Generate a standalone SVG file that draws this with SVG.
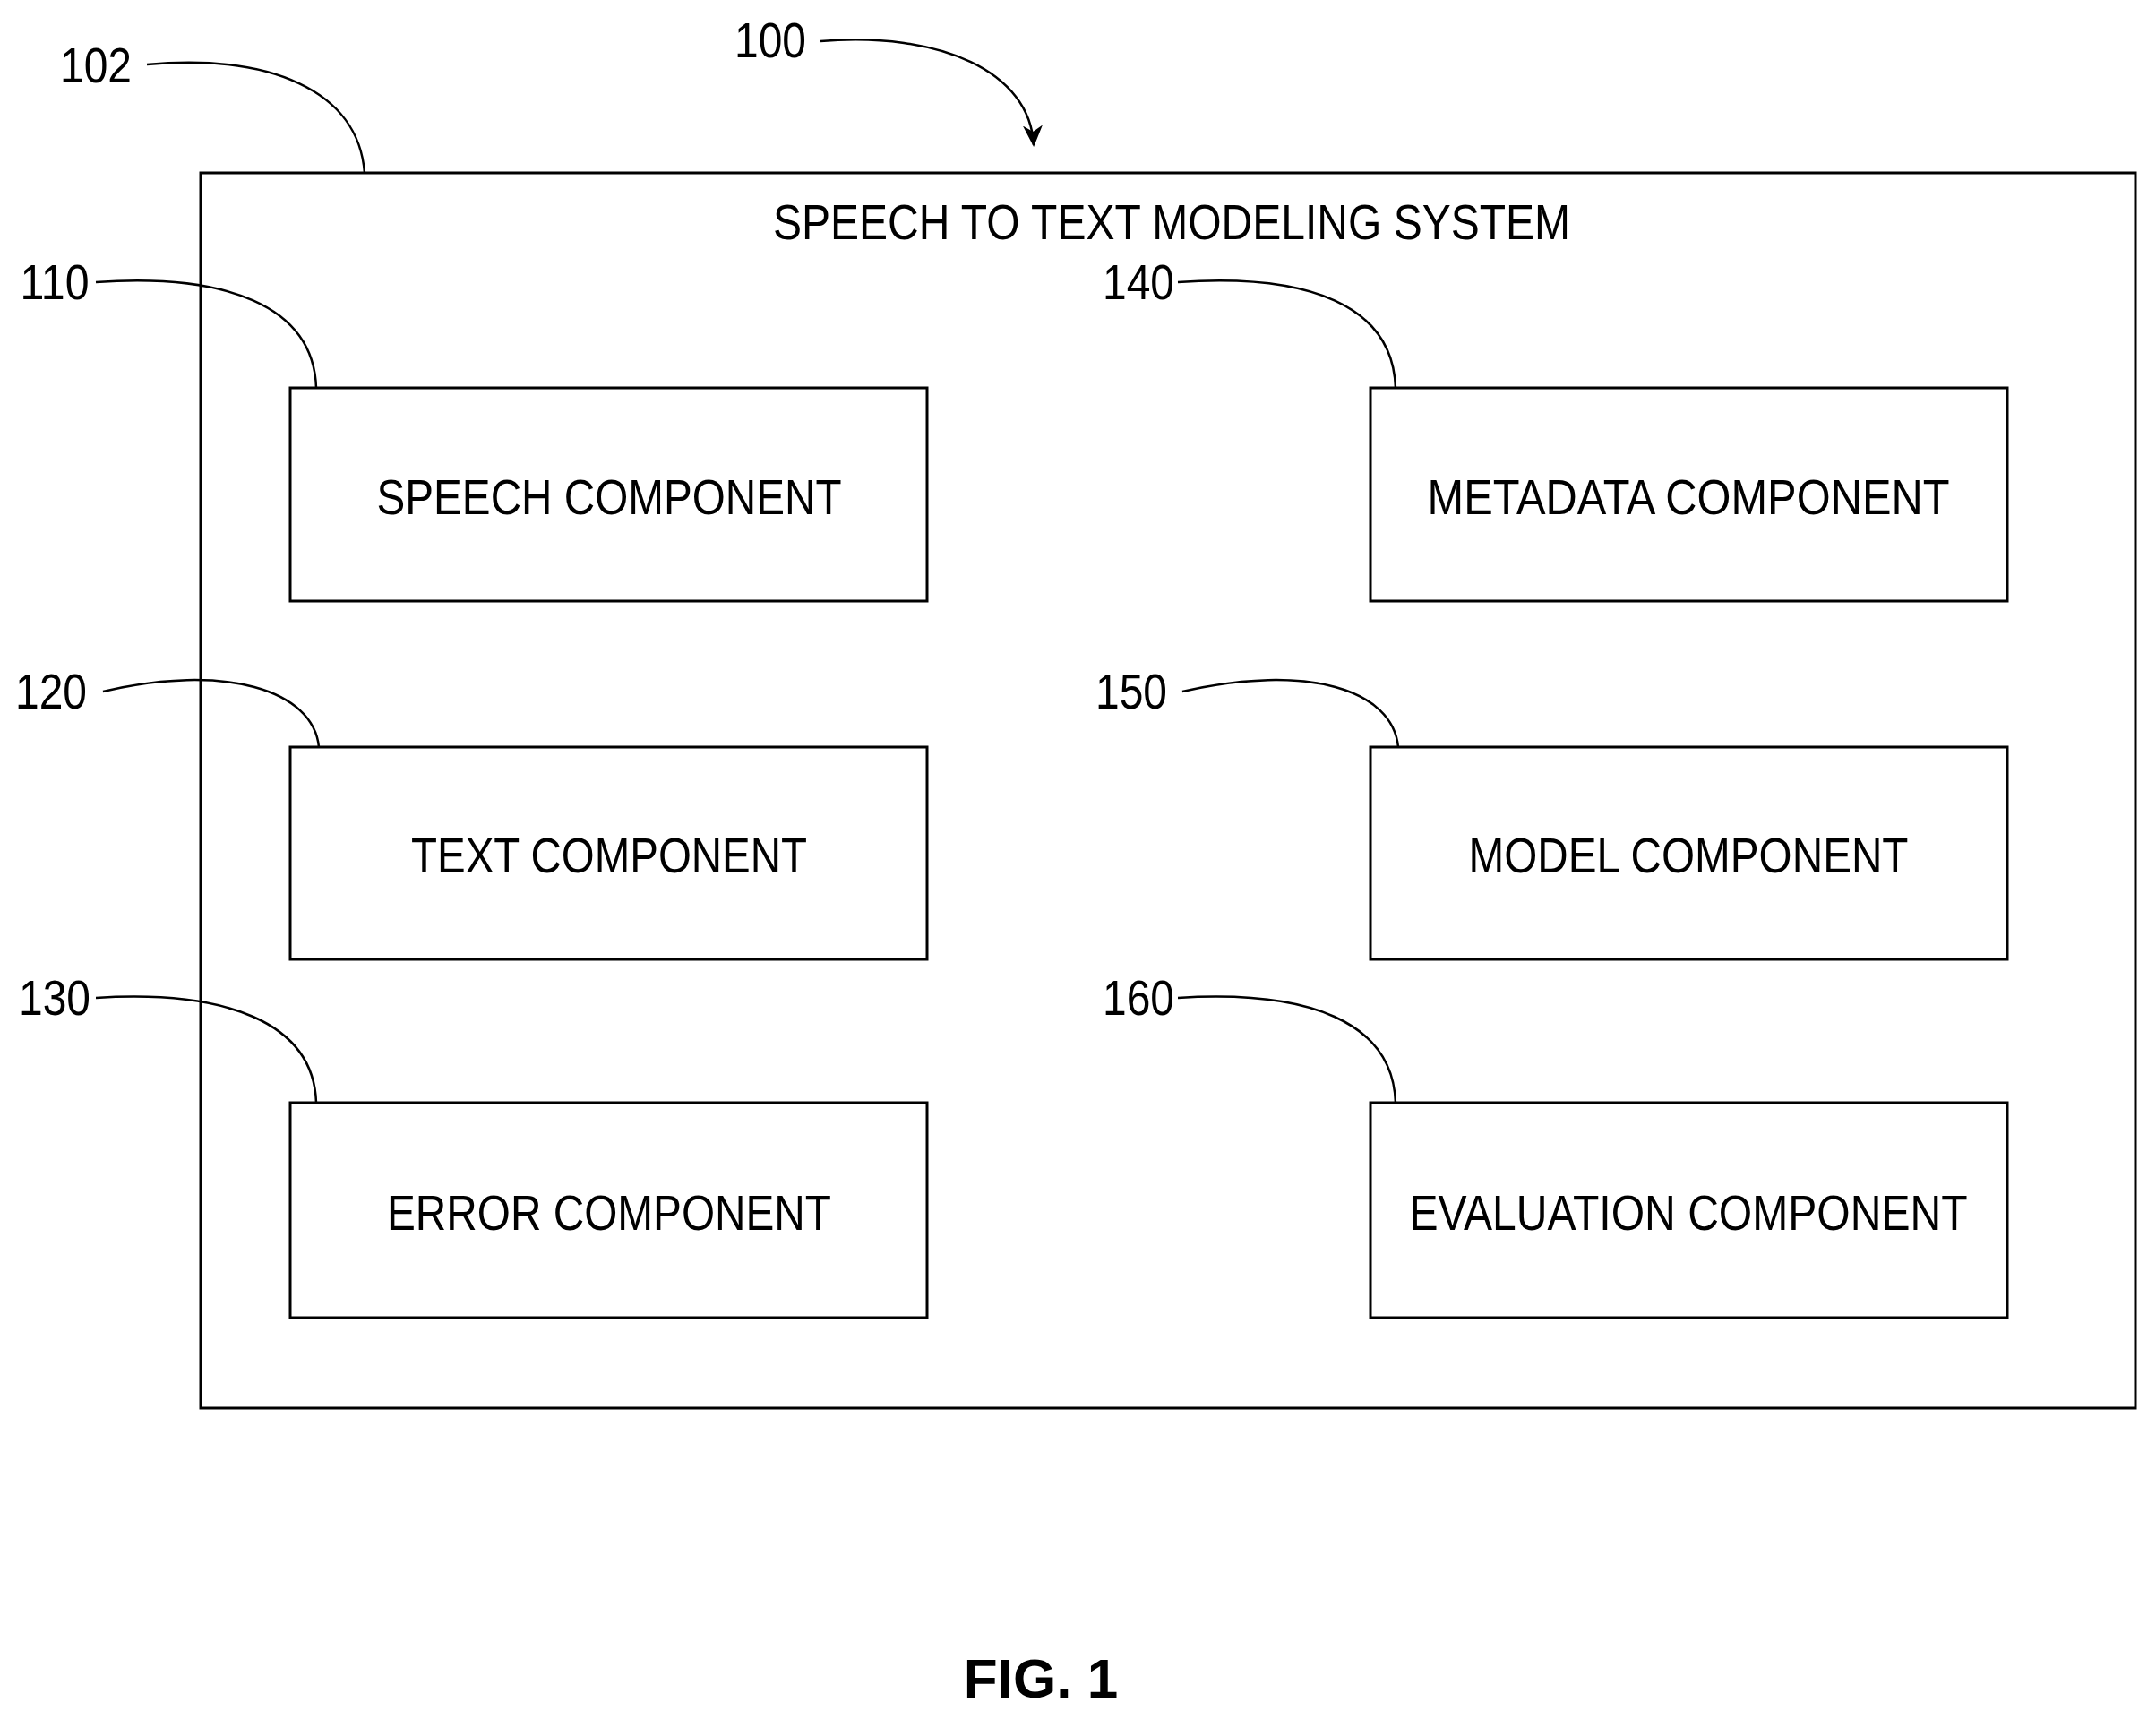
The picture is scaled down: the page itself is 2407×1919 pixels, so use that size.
<svg xmlns="http://www.w3.org/2000/svg" width="2407" height="1919" viewBox="0 0 2407 1919">
<style>
.b{fill:none;stroke:#000;stroke-width:3}
.l{fill:none;stroke:#000;stroke-width:2.5}
text{font-family:"Liberation Sans",Arial,sans-serif;font-size:56px;fill:#000;text-anchor:middle}
.f{font-weight:bold;font-size:62px}
</style>
<defs><marker id="a" markerWidth="26" markerHeight="26" refX="22" refY="13" orient="auto" markerUnits="userSpaceOnUse" viewBox="0 0 26 26"><path d="M0,2 L24,13 L0,24 L7,13 z" fill="#000"/></marker></defs>
<rect width="2407" height="1919" fill="#fff"/>
<g id="system"><rect class="b" x="224" y="193" width="2160" height="1379"/>
<text x="1308" y="267" textLength="890" lengthAdjust="spacingAndGlyphs">SPEECH TO TEXT MODELING SYSTEM</text></g>
<g id="n110"><rect class="b" x="324" y="433" width="711" height="238"/><text x="680" y="574" textLength="519" lengthAdjust="spacingAndGlyphs">SPEECH COMPONENT</text></g>
<g id="n120"><rect class="b" x="324" y="834" width="711" height="237"/><text x="680" y="974" textLength="442" lengthAdjust="spacingAndGlyphs">TEXT COMPONENT</text></g>
<g id="n130"><rect class="b" x="324" y="1231" width="711" height="240"/><text x="680" y="1373" textLength="496" lengthAdjust="spacingAndGlyphs">ERROR COMPONENT</text></g>
<g id="n140"><rect class="b" x="1530" y="433" width="711" height="238"/><text x="1885" y="574" textLength="583" lengthAdjust="spacingAndGlyphs">METADATA COMPONENT</text></g>
<g id="n150"><rect class="b" x="1530" y="834" width="711" height="237"/><text x="1885" y="974" textLength="491" lengthAdjust="spacingAndGlyphs">MODEL COMPONENT</text></g>
<g id="n160"><rect class="b" x="1530" y="1231" width="711" height="240"/><text x="1885" y="1373" textLength="623" lengthAdjust="spacingAndGlyphs">EVALUATION COMPONENT</text></g>
<g id="labels">
<text x="107" y="92" textLength="80" lengthAdjust="spacingAndGlyphs">102</text>
<text x="860" y="64" textLength="80" lengthAdjust="spacingAndGlyphs">100</text>
<text x="61" y="334" textLength="77" lengthAdjust="spacingAndGlyphs">110</text>
<text x="57" y="791" textLength="80" lengthAdjust="spacingAndGlyphs">120</text>
<text x="61" y="1133" textLength="80" lengthAdjust="spacingAndGlyphs">130</text>
<text x="1271" y="334" textLength="80" lengthAdjust="spacingAndGlyphs">140</text>
<text x="1263" y="791" textLength="80" lengthAdjust="spacingAndGlyphs">150</text>
<text x="1271" y="1133" textLength="80" lengthAdjust="spacingAndGlyphs">160</text>
<text class="f" x="1162" y="1895">FIG. 1</text>
</g>
<g id="connectors">
<path class="l" d="M164,72 C300,60 400,100 407,193"/>
<path class="l" d="M916,46 C1050,35 1150,80 1154,162" marker-end="url(#a)"/>
<path class="l" d="M107,315 C250,305 350,340 353,433"/>
<path class="l" d="M115,772 C250,740 350,770 356,834"/>
<path class="l" d="M107,1114 C250,1105 350,1140 353,1231"/>
<path class="l" d="M1315,315 C1460,305 1555,340 1558,433"/>
<path class="l" d="M1320,772 C1460,740 1555,770 1561,834"/>
<path class="l" d="M1315,1114 C1460,1105 1555,1140 1558,1231"/>
</g>
</svg>
